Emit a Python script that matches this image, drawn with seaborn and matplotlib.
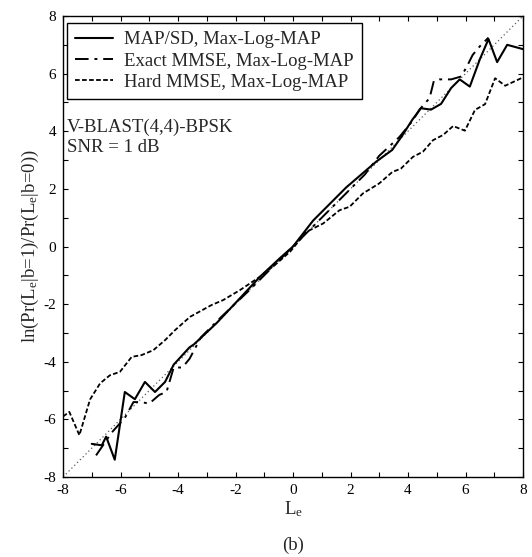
import matplotlib
matplotlib.use("Agg")
import matplotlib.pyplot as plt
import seaborn as sns
import numpy as np
import pandas as pd

# ---- data ----
map_x = [-7.0, -6.65, -6.5, -6.2, -5.85, -5.5, -5.15, -4.8, -4.45, -4.15, -3.6, -3.45, -2.65,
         -1.85, -1.15, -0.45, 0.0, 0.7, 1.85, 2.9, 3.45, 3.8, 4.15, 4.45, 4.8, 5.15, 5.5, 5.8,
         6.15, 6.5, 6.8, 7.1, 7.45, 8.0]
map_y = [-6.85, -6.9, -6.6, -7.4, -5.05, -5.3, -4.7, -5.05, -4.7, -4.1, -3.5, -3.4, -2.65,
         -1.8, -1.05, -0.4, 0.0, 0.9, 2.05, 2.95, 3.35, 3.85, 4.4, 4.8, 4.75, 4.95, 5.5, 5.8,
         5.55, 6.5, 7.2, 6.4, 7.0, 6.85]

exact_x = [-6.85, -6.3, -5.85, -5.55, -5.3, -5.0, -4.65, -4.4, -4.15, -3.85, -3.6, -3.2, -2.5,
           -1.5, -0.5, 0.5, 1.5, 2.5, 3.0, 3.7, 4.15, 4.4, 4.75, 4.9, 5.1, 5.5, 5.85, 6.05,
           6.25, 6.5, 6.8]
exact_y = [-7.25, -6.45, -5.95, -5.4, -5.4, -5.45, -5.15, -5.05, -4.2, -4.2, -3.9, -3.15, -2.45,
           -1.5, -0.5, 0.5, 1.5, 2.5, 3.15, 3.8, 4.35, 4.75, 5.15, 5.75, 5.8, 5.8, 5.9, 6.25,
           6.65, 6.95, 7.25]

hard_x = [-8.0, -7.78, -7.43, -7.06, -6.71, -6.37, -6.02, -5.61, -5.27, -4.86, -4.45, -4.1,
          -3.58, -2.83, -2.43, -1.84, -1.15, -0.57, -0.1, 0.47, 1.05, 1.62, 1.97, 2.43, 3.0,
          3.46, 3.75, 4.17, 4.52, 4.87, 5.22, 5.57, 5.98, 6.33, 6.68, 7.03, 7.38, 8.0]
hard_y = [-5.9, -5.74, -6.55, -5.31, -4.75, -4.47, -4.35, -3.83, -3.77, -3.6, -3.25, -2.9,
          -2.44, -2.03, -1.86, -1.51, -1.05, -0.59, -0.18, 0.51, 0.8, 1.26, 1.38, 1.84, 2.19,
          2.59, 2.7, 3.11, 3.29, 3.69, 3.87, 4.18, 4.02, 4.74, 4.94, 5.84, 5.58, 5.87]

ref_x = [-8, 8]
ref_y = [-8, 8]

labels = ["MAP/SD, Max-Log-MAP", "Exact MMSE, Max-Log-MAP", "Hard MMSE, Max-Log-MAP"]
xticks = list(range(-8, 9))
yticks = list(range(-8, 9))

# ---- style ----
sns.set_style("ticks")
plt.rcParams["font.family"] = ["Liberation Serif", "DejaVu Serif"]
plt.rcParams["mathtext.fontset"] = "custom"
plt.rcParams["mathtext.rm"] = "Liberation Serif"
plt.rcParams["mathtext.it"] = "Liberation Serif:italic"
plt.rcParams["axes.unicode_minus"] = False

fig = plt.figure(figsize=(5.32, 5.57), dpi=100)
ax = fig.add_axes([63/532, 1-477/557, 460/532, 461/557])

sns.lineplot(x=ref_x, y=ref_y, ax=ax, color="0.35", lw=0.9, linestyle=(0, (1, 2.2)))
sns.lineplot(x=hard_x, y=hard_y, ax=ax, sort=False, color="black", lw=1.3,
             linestyle=(0, (2.6, 1.3)), label=labels[2])
sns.lineplot(x=exact_x, y=exact_y, ax=ax, sort=False, color="black", lw=1.4,
             linestyle=(0, (7, 3, 1.5, 3)), label=labels[1])
sns.lineplot(x=map_x, y=map_y, ax=ax, sort=False, color="black", lw=1.5,
             linestyle="-", label=labels[0])

ax.set_xlim(-8, 8)
ax.set_ylim(-8, 8)
ax.set_xticks(xticks)
ax.set_yticks(yticks)
ax.set_xticklabels([str(t) if t % 2 == 0 else "" for t in xticks])
ax.set_yticklabels([str(t) if t % 2 == 0 else "" for t in yticks])
ax.tick_params(direction="in", length=3.5, width=0.8, top=True, right=True,
               labelsize=11, pad=5, colors="black")
for s in ax.spines.values():
    s.set_linewidth(1.0)
    s.set_color("black")

ax.set_xlabel(r"L$_\mathregular{e}$", fontsize=13.5, labelpad=2)
ax.set_ylabel(r"ln(Pr(L$_\mathregular{e}$|b=1)/Pr(L$_\mathregular{e}$|b=0))", fontsize=13.5, labelpad=2)

handles, labs = ax.get_legend_handles_labels()
order = [labs.index(l) for l in labels]
leg = ax.legend([handles[i] for i in order], [labs[i] for i in order],
                loc="upper left", bbox_to_anchor=(0.0087, 0.985), borderaxespad=0,
                fontsize=13.5, frameon=True, fancybox=False, edgecolor="black",
                handlelength=2.0, handletextpad=0.6, labelspacing=0.22, borderpad=0.45)
leg.get_frame().set_linewidth(1.0)
leg.get_frame().set_alpha(1)

ax.text(-7.86, 4.15, "V-BLAST(4,4)-BPSK", fontsize=13.5, va="center", ha="left")
ax.text(-7.86, 3.45, "SNR = 1 dB", fontsize=13.5, va="center", ha="left")

fig.text(293/532, 1-545/557, "(b)", fontsize=13.5, ha="center", va="center")

fig.savefig("out.png", dpi=100)
